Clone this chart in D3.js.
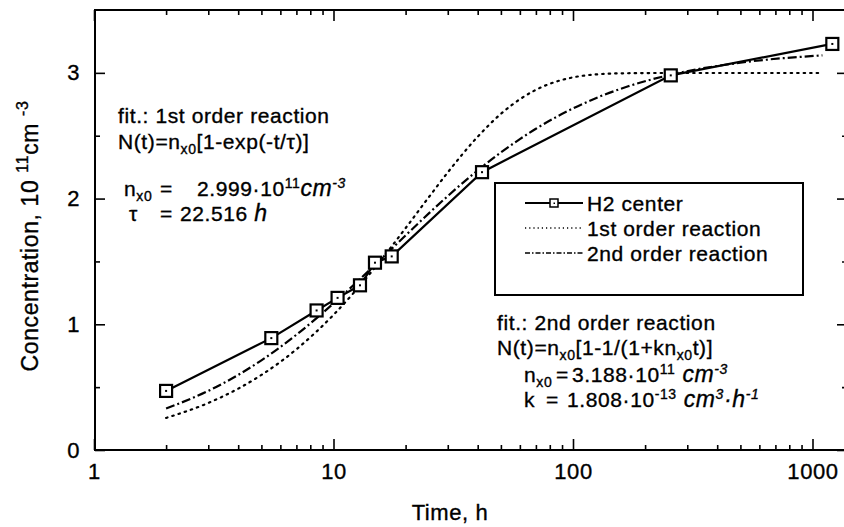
<!DOCTYPE html>
<html>
<head>
<meta charset="utf-8">
<script src="https://cdn.jsdelivr.net/npm/d3@7"></script>
<style>
  body { margin: 0; background: #fff; }
  svg { display: block; }
  text { font-family: "Liberation Sans", Arial, sans-serif; fill: #000; letter-spacing: 0.6px;
         stroke: #000; stroke-width: 0.35px; }
  .unit { font-style: italic; }
</style>
</head>
<body>
<svg id="chart" width="844" height="527"></svg>
<script>
// measured H2 center points
const hours = [2.0, 5.5, 8.5, 10.4, 12.9, 14.9, 17.5, 41.7, 256, 1210];
const h2Center = [0.47, 0.89, 1.11, 1.21, 1.31, 1.49, 1.54, 2.21, 2.98, 3.23];

// fit curves
const fitHours = [2, 3, 4, 5, 7, 10, 15, 20, 25, 30, 40, 50, 60, 70, 85, 100, 130, 170, 250, 500, 1100];
const firstOrder = [0.255, 0.374, 0.488, 0.597, 0.801, 1.075, 1.458, 1.765, 2.011, 2.208, 2.492, 2.674, 2.790, 2.865, 2.930, 2.964, 2.990, 2.997, 2.999, 2.999, 2.999];
const secondOrder = [0.330, 0.470, 0.597, 0.713, 0.917, 1.166, 1.478, 1.707, 1.882, 2.020, 2.224, 2.367, 2.473, 2.555, 2.648, 2.717, 2.813, 2.893, 2.981, 3.081, 3.139];

const xMajor = [1, 10, 100, 1000];
const xMinor = [2, 3, 4, 5, 6, 7, 8, 9, 20, 30, 40, 50, 60, 70, 80, 90, 200, 300, 400, 500, 600, 700, 800, 900];
const yMajor = [0, 1, 2, 3];
const yMinor = [0.5, 1.5, 2.5];

const legendLabels = ["H2 center", "1st order reaction", "2nd order reaction"];

const svg = d3.select("#chart");
const pLeft = 95, pRight = 847, pTop = 10, pBottom = 450;

const x = d3.scaleLog().domain([1, 1400]).range([94, 94 + 239.5 * Math.log10(1400)]);
const y = d3.scaleLinear().domain([0, 3.5]).range([pBottom, pTop]);

// axes (ticks pointing inward on all four sides)
function styleAxis(g) {
    g.select(".domain").remove();
    g.selectAll(".tick line").attr("stroke", "#000").attr("stroke-width", 1.6);
    g.selectAll(".tick text").attr("font-size", "22px").attr("fill", "#000")
        .attr("font-family", "'Liberation Sans', Arial, sans-serif");
}

svg.append("g").attr("transform", `translate(0,${pBottom})`)
    .call(d3.axisBottom(x).tickValues(xMajor).tickFormat(d3.format("d")).tickSize(-11).tickPadding(13))
    .call(styleAxis);
svg.append("g").attr("transform", `translate(0,${pBottom})`)
    .call(d3.axisBottom(x).tickValues(xMinor).tickFormat("").tickSize(-5))
    .call(styleAxis);
svg.append("g").attr("transform", `translate(0,${pTop})`)
    .call(d3.axisTop(x).tickValues(xMajor).tickFormat("").tickSize(-11))
    .call(styleAxis);
svg.append("g").attr("transform", `translate(0,${pTop})`)
    .call(d3.axisTop(x).tickValues(xMinor).tickFormat("").tickSize(-5))
    .call(styleAxis);

svg.append("g").attr("transform", `translate(${pLeft},0)`)
    .call(d3.axisLeft(y).tickValues(yMajor).tickFormat(d3.format("d")).tickSize(-10).tickPadding(15))
    .call(styleAxis);
svg.append("g").attr("transform", `translate(${pLeft},0)`)
    .call(d3.axisLeft(y).tickValues(yMinor).tickFormat("").tickSize(-5))
    .call(styleAxis);
svg.append("g").attr("transform", `translate(${pRight},0)`)
    .call(d3.axisRight(y).tickValues(yMajor).tickFormat("").tickSize(-10))
    .call(styleAxis);
svg.append("g").attr("transform", `translate(${pRight},0)`)
    .call(d3.axisRight(y).tickValues(yMinor).tickFormat("").tickSize(-5))
    .call(styleAxis);

// frame
svg.append("rect")
    .attr("x", pLeft).attr("y", pTop)
    .attr("width", pRight - pLeft).attr("height", pBottom - pTop)
    .attr("fill", "none").attr("stroke", "#000").attr("stroke-width", 2);

// axis titles
svg.append("text")
    .attr("x", 450).attr("y", 520)
    .attr("text-anchor", "middle").attr("font-size", "22px")
    .text("Time, h");

const yTitle = svg.append("text")
    .attr("transform", "translate(38,236) rotate(-90)")
    .attr("text-anchor", "middle").attr("font-size", "23px");
yTitle.append("tspan").text("Concentration, 10 ");
yTitle.append("tspan").attr("font-size", "16px").attr("dy", -10).text("11");
yTitle.append("tspan").attr("dy", 10).text("cm ");
yTitle.append("tspan").attr("font-size", "16px").attr("dy", -10).text("-3");

// curves
const line = d3.line().x(d => x(d[0])).y(d => y(d[1])).curve(d3.curveMonotoneX);
const dataLine = d3.line().x(d => x(d[0])).y(d => y(d[1]));

svg.append("path")
    .datum(d3.zip(fitHours, firstOrder))
    .attr("d", line)
    .attr("fill", "none").attr("stroke", "#000").attr("stroke-width", 2.2)
    .attr("stroke-dasharray", "1.5,5").attr("stroke-linecap", "round");

svg.append("path")
    .datum(d3.zip(fitHours, secondOrder))
    .attr("d", line)
    .attr("fill", "none").attr("stroke", "#000").attr("stroke-width", 2.2)
    .attr("stroke-dasharray", "9,3,2,3");

const h2 = d3.zip(hours, h2Center);
svg.append("path")
    .datum(h2)
    .attr("d", dataLine)
    .attr("fill", "none").attr("stroke", "#000").attr("stroke-width", 2.2);

const marks = svg.selectAll(".mark").data(h2).enter().append("g")
    .attr("class", "mark")
    .attr("transform", d => `translate(${x(d[0])},${y(d[1])})`);
marks.append("rect")
    .attr("x", -6).attr("y", -6).attr("width", 12).attr("height", 12)
    .attr("fill", "#fff").attr("stroke", "#000").attr("stroke-width", 2.2);
marks.append("rect")
    .attr("x", -1).attr("y", -1).attr("width", 2).attr("height", 2).attr("fill", "#000");

// legend
const lg = svg.append("g");
lg.append("rect")
    .attr("x", 495).attr("y", 183).attr("width", 308).attr("height", 112)
    .attr("fill", "#fff").attr("stroke", "#000").attr("stroke-width", 2);
const rowY = [203, 228, 253];
const dashes = [null, "1.2,3", "5,2,1.5,2"];
legendLabels.forEach((lab, i) => {
    lg.append("line")
        .attr("x1", 525).attr("x2", 583).attr("y1", rowY[i]).attr("y2", rowY[i])
        .attr("stroke", "#000").attr("stroke-width", i === 0 ? 2 : 1.4)
        .attr("stroke-dasharray", dashes[i]);
    lg.append("text")
        .attr("x", 587).attr("y", rowY[i] + 7.5)
        .attr("font-size", "21px").text(lab);
});
lg.append("rect")
    .attr("x", 550).attr("y", rowY[0] - 4).attr("width", 8).attr("height", 8)
    .attr("fill", "#fff").attr("stroke", "#000").attr("stroke-width", 1.5);
lg.append("rect")
    .attr("x", 553.5).attr("y", rowY[0] - 0.5).attr("width", 1.5).attr("height", 1.5).attr("fill", "#000");

// annotation helper: parts = [text, kind, x] where kind: "", "sub", "sup", "unit", "usup"
function note(xPos, yPos, parts) {
    const t = svg.append("text").attr("x", xPos).attr("y", yPos).attr("font-size", "21px");
    let shift = 0;
    parts.forEach(p => {
        const s = t.append("tspan").text(p[0]);
        let want = 0;
        if (p[1] === "sub") want = 5;
        if (p[1] === "sup" || p[1] === "usup") want = -8;
        if (p[1] === "sub" || p[1] === "sup" || p[1] === "usup") s.attr("font-size", "14px");
        if (p[1] === "unit") s.attr("font-size", "23px");
        if (p[1] === "unit" || p[1] === "usup") s.attr("class", "unit");
        if (p[2] !== undefined) s.attr("x", p[2]);
        s.attr("dy", want - shift);
        shift = want;
    });
    return t;
}

note(118, 123, [["fit.: 1st order reaction", ""]]);
note(118, 149, [["N(t)=n", ""], ["x0", "sub"], ["[1-exp(-t/τ)]", ""]]);
note(124, 196, [["n", ""], ["x0", "sub"], ["=", "", 160], ["2.999·10", "", 197], ["11", "sup"], ["cm", "unit"], ["-3", "usup"]]);
note(129, 221, [["τ", ""], ["=", "", 160], ["22.516 ", "", 180], ["h", "unit"]]);

note(497, 330, [["fit.: 2nd order reaction", ""]]);
note(497, 355, [["N(t)=n", ""], ["x0", "sub"], ["[1-1/(1+kn", ""], ["x0", "sub"], ["t)]", ""]]);
note(524, 382, [["n", ""], ["x0", "sub"], ["=", "", 556], ["3.188·10", "", 572], ["11", "sup"], [" cm", "unit"], ["-3", "usup"]]);
note(524, 407, [["k", ""], ["=", "", 546], ["1.808·10", "", 567], ["-13", "sup"], [" cm", "unit"], ["3", "usup"], ["·h", "unit"], ["-1", "usup"]]);
</script>
</body>
</html>
